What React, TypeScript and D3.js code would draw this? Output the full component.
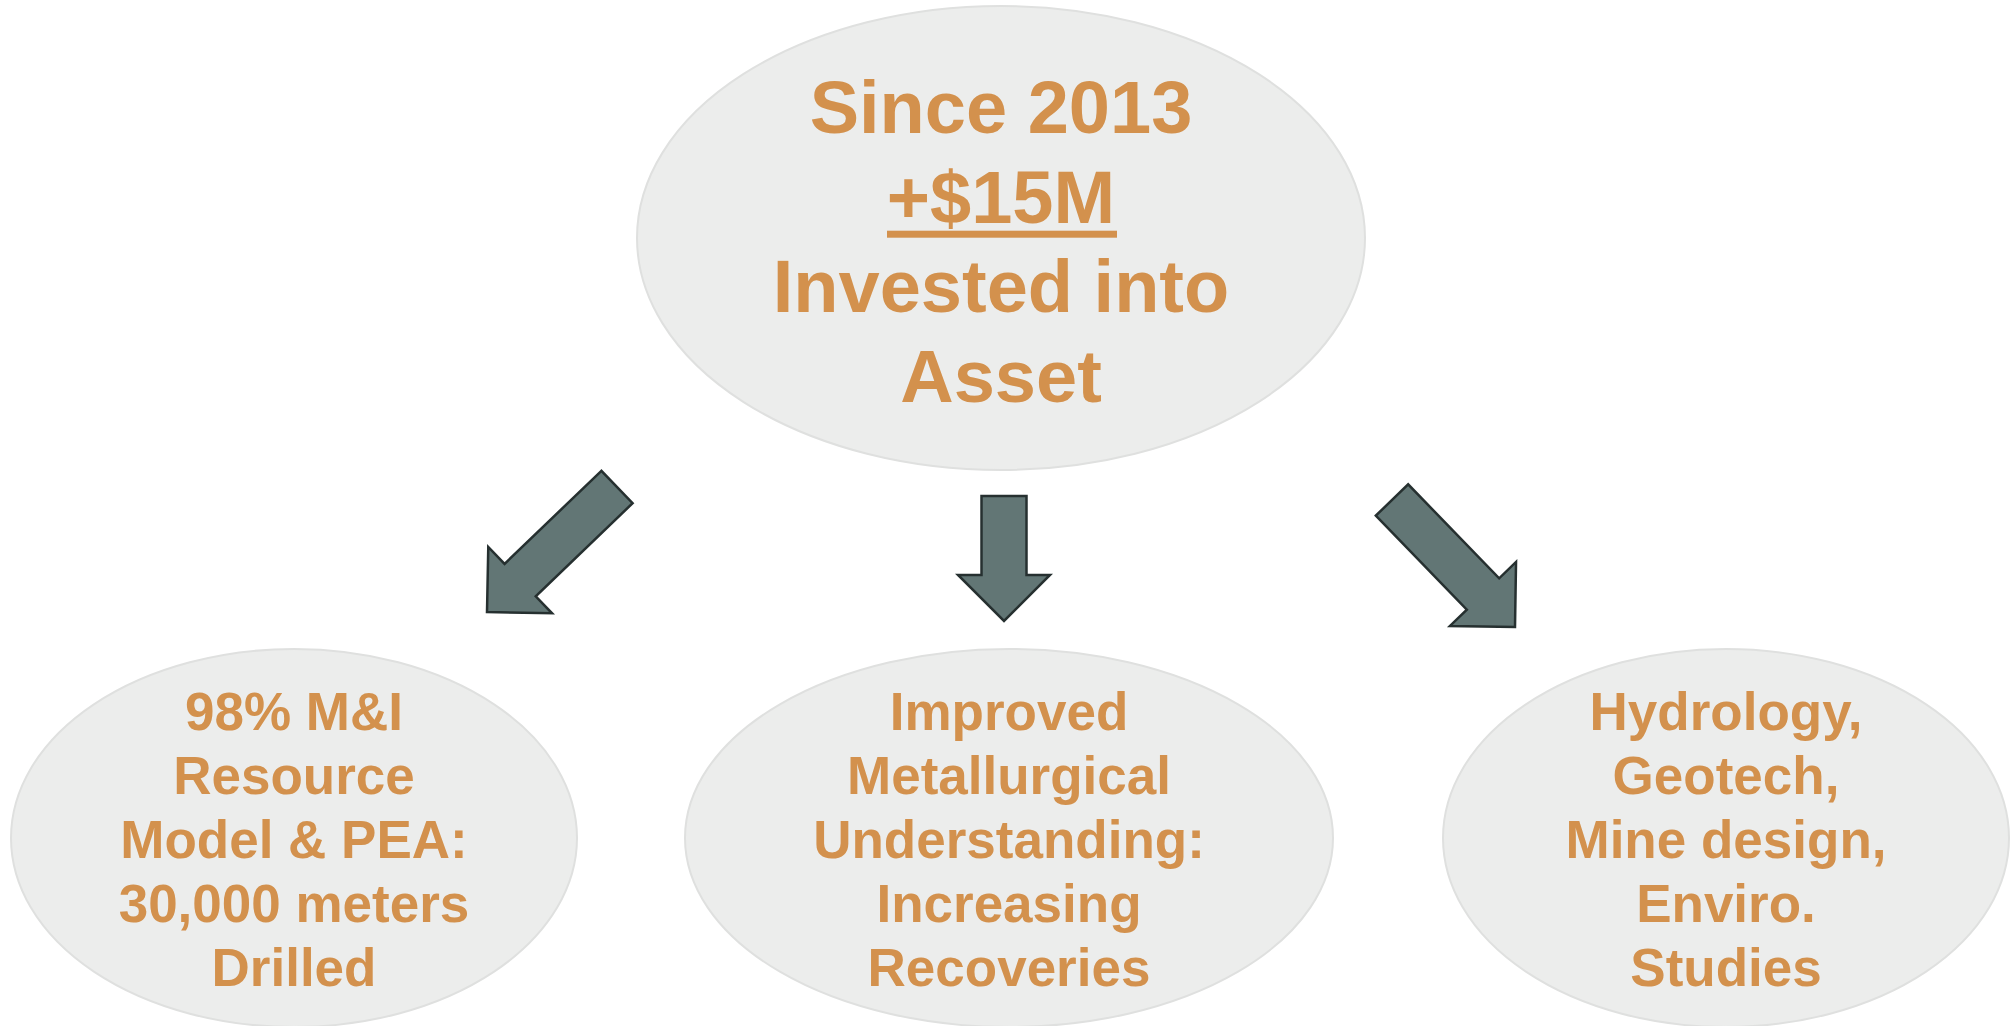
import React from "react";
import * as d3 from "d3";

const W = 2011;
const H = 1026;

// Diagram nodes
const nodeIds = ["top", "left", "middle", "right"];
const nodeCx = [1001, 294, 1009, 1726];
const nodeCy = [238, 838, 838, 838];
const nodeRx = [364, 283, 324, 283];
const nodeRy = [232, 189, 189, 189];
const nodeLines: string[][] = [
  ["Since 2013", "+$15M", "Invested into", "Asset"],
  ["98% M&I", "Resource", "Model & PEA:", "30,000 meters", "Drilled"],
  ["Improved", "Metallurgical", "Understanding:", "Increasing", "Recoveries"],
  ["Hydrology,", "Geotech,", "Mine design,", "Enviro.", "Studies"],
];
const nodeFirstBaseline = [133, 730, 730, 730];
const nodeLineGap = [89.7, 64, 64, 64];
const nodeFontSize = [74, 53, 53, 53];
const underlinedLine = [1, -1, -1, -1];

// Arrows: tail centre -> tip
const arrowTailX = [617, 1004, 1392];
const arrowTailY = [487, 496, 500];
const arrowTipX = [487, 1004, 1515];
const arrowTipY = [612, 621, 627];

const TEXT = "#D3914D";
const FILL = "#ECEDEC";
const ELLIPSE_STROKE = "#DFE0DF";
const ARROW_FILL = "#627675";
const ARROW_STROKE = "#263030";

function arrowPoints(tx: number, ty: number, px: number, py: number): [number, number][] {
  const dx = px - tx;
  const dy = py - ty;
  const len = Math.hypot(dx, dy);
  const ux = dx / len;
  const uy = dy / len;
  const nx = -uy;
  const ny = ux;
  const sw = 22.5; // shaft half width
  const hw = 46; // head half width
  const hl = 46; // head length
  const bx = px - ux * hl;
  const by = py - uy * hl;
  return [
    [tx + nx * sw, ty + ny * sw],
    [bx + nx * sw, by + ny * sw],
    [bx + nx * hw, by + ny * hw],
    [px, py],
    [bx - nx * hw, by - ny * hw],
    [bx - nx * sw, by - ny * sw],
    [tx - nx * sw, ty - ny * sw],
  ];
}

export default function App() {
  const line = d3.line().curve(d3.curveLinearClosed);
  return (
    <svg
      width={W}
      height={H}
      viewBox={`0 0 ${W} ${H}`}
      style={{ position: "absolute", left: 0, top: 0, display: "block", background: "#ffffff" }}
    >
      {nodeIds.map((id, i) => (
        <g key={id}>
          <ellipse
            cx={nodeCx[i]}
            cy={nodeCy[i]}
            rx={nodeRx[i]}
            ry={nodeRy[i]}
            fill={FILL}
            stroke={ELLIPSE_STROKE}
            strokeWidth={2}
          />
          {nodeLines[i].map((t, j) => {
            const y = nodeFirstBaseline[i] + j * nodeLineGap[i];
            const fs = nodeFontSize[i];
            const approxW = t === "+$15M" ? 230 : 0;
            return (
              <g key={j}>
                <text
                  x={nodeCx[i]}
                  y={y}
                  textAnchor="middle"
                  fontFamily="'Liberation Sans', Arial, Helvetica, sans-serif"
                  fontWeight="bold"
                  fontSize={fs}
                  fill={TEXT}
                >
                  {t}
                </text>
                {underlinedLine[i] === j && (
                  <rect x={nodeCx[i] + 1 - approxW / 2} y={y + 8} width={approxW} height={7} fill={TEXT} />
                )}
              </g>
            );
          })}
        </g>
      ))}
      {arrowTailX.map((_, i) => (
        <path
          key={"a" + i}
          d={line(arrowPoints(arrowTailX[i], arrowTailY[i], arrowTipX[i], arrowTipY[i])) || ""}
          fill={ARROW_FILL}
          stroke={ARROW_STROKE}
          strokeWidth={2.5}
          strokeLinejoin="miter"
        />
      ))}
    </svg>
  );
}
